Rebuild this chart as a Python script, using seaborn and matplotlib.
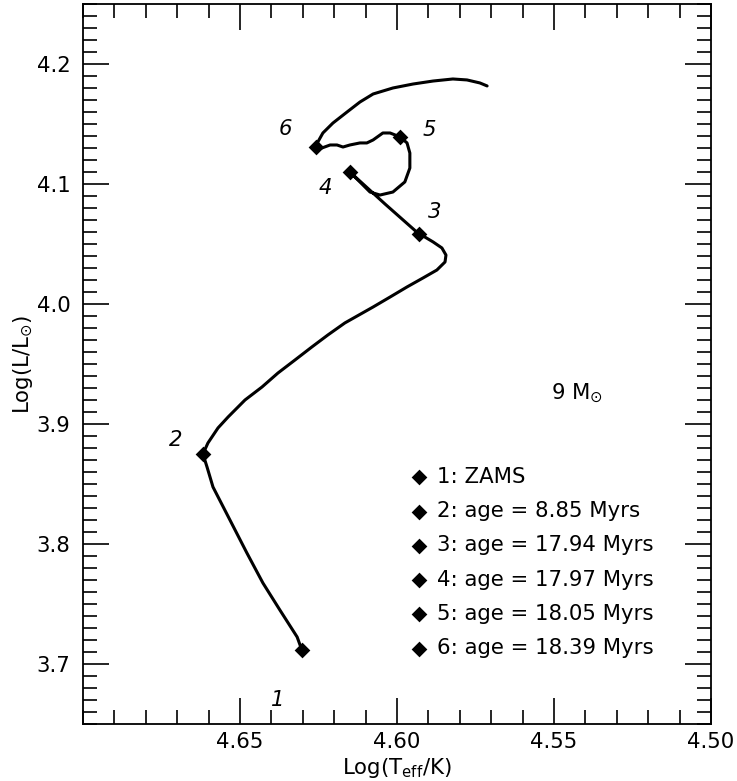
import matplotlib
matplotlib.use("Agg")
import matplotlib.pyplot as plt
from matplotlib.ticker import AutoMinorLocator, FormatStrFormatter, FixedLocator
import pandas as pd
import seaborn as sns

# Evolutionary track of a 9 Msun star in the HR diagram (log Teff, log L/Lsun)
track_logt = [
    # ZAMS -> point 2
    4.6303, 4.6318, 4.6373, 4.6427, 4.6478, 4.6532, 4.6586, 4.6605, 4.6618,
    # main-sequence expansion towards cooler temperatures
    4.6602, 4.6570, 4.6538, 4.6484, 4.6430, 4.6379, 4.6325, 4.6271, 4.6220,
    4.6166, 4.6076, 4.6022, 4.5968, 4.5917, 4.5873, 4.5847, 4.5844, 4.5857,
    4.5885, 4.5917, 4.5930,
    # overall contraction
    4.6038, 4.6150,
    # loop
    4.6118, 4.6086, 4.6054, 4.6013, 4.5975, 4.5959, 4.5959, 4.5968, 4.5990,
    # wavy segment
    4.6022, 4.6045, 4.6076, 4.6096, 4.6118, 4.6150, 4.6172, 4.6191, 4.6213,
    4.6239, 4.6258,
    # final redward evolution
    4.6252, 4.6236, 4.6204, 4.6159, 4.6118, 4.6076, 4.6013, 4.5949, 4.5885,
    4.5822, 4.5777, 4.5736, 4.5713,
]
track_logl = [
    3.7117, 3.7225, 3.7450, 3.7675, 3.7925, 3.8200, 3.8475, 3.8642, 3.8750,
    3.8842, 3.8967, 3.9058, 3.9200, 3.9308, 3.9425, 3.9533, 3.9642, 3.9742,
    3.9842, 3.9975, 4.0058, 4.0142, 4.0217, 4.0283, 4.0350, 4.0408, 4.0467,
    4.0517, 4.0567, 4.0583,
    4.0833, 4.1100,
    4.1017, 4.0933, 4.0908, 4.0933, 4.1017, 4.1133, 4.1258, 4.1342, 4.1392,
    4.1425, 4.1425, 4.1367, 4.1342, 4.1342, 4.1325, 4.1308, 4.1325, 4.1325,
    4.1300, 4.1308,
    4.1350, 4.1425, 4.1508, 4.1600, 4.1683, 4.1750, 4.1800, 4.1833, 4.1858,
    4.1875, 4.1867, 4.1842, 4.1817,
]

# Marked evolutionary stages
stage_ids = ["1", "2", "3", "4", "5", "6"]
stage_logt = [4.6303, 4.6618, 4.5930, 4.6150, 4.5990, 4.6258]
stage_logl = [3.7117, 3.8750, 4.0583, 4.1100, 4.1392, 4.1308]
stage_notes = ["ZAMS", "age = 8.85 Myrs", "age = 17.94 Myrs",
               "age = 17.97 Myrs", "age = 18.05 Myrs", "age = 18.39 Myrs"]

mass_label = r"9 M$_{\odot}$"
x_ticks = [4.65, 4.60, 4.55, 4.50]
y_ticks = [3.7, 3.8, 3.9, 4.0, 4.1, 4.2]

sns.set_style("ticks")
plt.rcParams["font.family"] = ["DejaVu Sans"]
plt.rcParams["mathtext.fontset"] = "dejavusans"
plt.rcParams["mathtext.default"] = "regular"
plt.rcParams["text.color"] = "black"
plt.rcParams["axes.labelcolor"] = "black"

FS = 15.3

fig = plt.figure(figsize=(7.37, 7.81), dpi=100)
ax = fig.add_axes([0.1126, 0.0730, 0.8521, 0.9219])

track = pd.DataFrame({"logt": track_logt, "logl": track_logl})
sns.lineplot(data=track, x="logt", y="logl", sort=False, estimator=None,
             color="black", linewidth=2.2, ax=ax, zorder=2,
             solid_joinstyle="round", solid_capstyle="round")

for i, (sid, note) in enumerate(zip(stage_ids, stage_notes)):
    sns.scatterplot(x=[stage_logt[i]], y=[stage_logl[i]], marker="D", s=64,
                    color="black", linewidth=0, ax=ax, zorder=3,
                    label=f"{sid}: {note}")

# number labels beside each stage marker (offsets in pixels)
label_offsets = [(-24, -50), (-27, 14), (16, 22), (-25, -16), (29, 7), (-31, 18)]
for sid, t, l, (dx, dy) in zip(stage_ids, stage_logt, stage_logl, label_offsets):
    ax.annotate(sid, (t, l), xytext=(dx, dy), textcoords="offset pixels",
                ha="center", va="center", fontsize=FS, fontstyle="italic",
                color="black")

ax.text(4.5427, 3.9258, mass_label, ha="center", va="center", fontsize=FS,
        color="black")

ax.set_xlim(4.70, 4.50)
ax.set_ylim(3.65, 4.25)
ax.xaxis.set_major_locator(FixedLocator(x_ticks))
ax.yaxis.set_major_locator(FixedLocator(y_ticks))
ax.xaxis.set_major_formatter(FormatStrFormatter("%.2f"))
ax.yaxis.set_major_formatter(FormatStrFormatter("%.1f"))
ax.xaxis.set_minor_locator(AutoMinorLocator(5))
ax.yaxis.set_minor_locator(AutoMinorLocator(10))
ax.tick_params(which="both", direction="in", top=True, right=True,
               width=1.2, color="black", labelsize=FS, labelcolor="black")
ax.tick_params(which="major", length=19)
ax.tick_params(which="minor", length=10)
ax.tick_params(axis="x", which="major", pad=6)
ax.tick_params(axis="y", which="major", pad=9)
for sp in ax.spines.values():
    sp.set_visible(True)
    sp.set_linewidth(1.3)
    sp.set_color("black")

ax.set_xlabel(r"Log(T$_{\rm eff}$/K)", fontsize=FS, labelpad=3)
ax.set_ylabel(r"Log(L/L$_{\odot}$)", fontsize=FS, labelpad=1.5)

leg = ax.legend(loc="upper left", bbox_to_anchor=(0.522, 0.357), frameon=False,
                fontsize=FS, handlelength=0.8, handletextpad=0.45,
                labelspacing=0.67, borderpad=0, borderaxespad=0)
for txt in leg.get_texts():
    txt.set_color("black")

fig.savefig("out.png", dpi=100)
